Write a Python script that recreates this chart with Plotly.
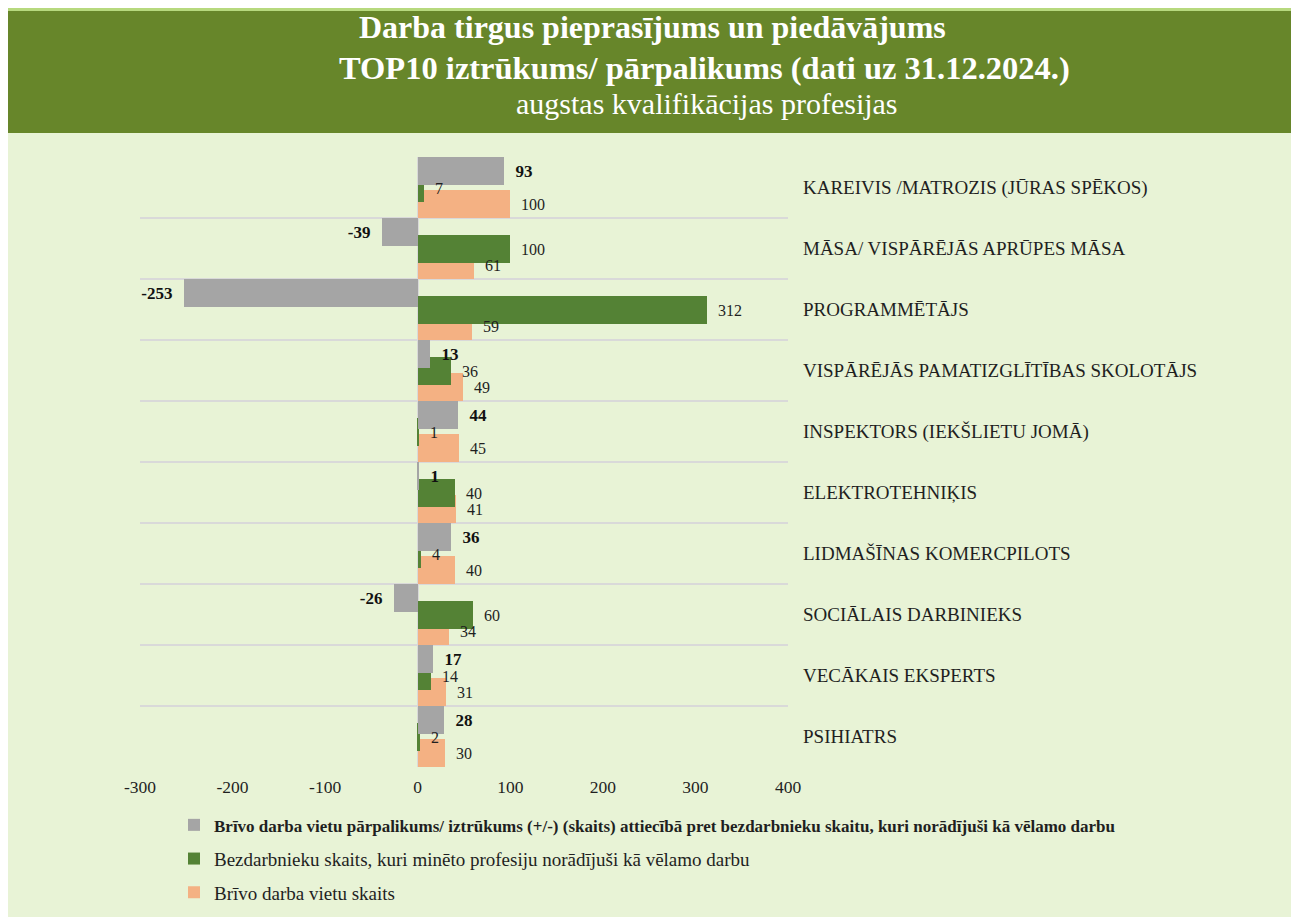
import plotly.graph_objects as go

categories = [
    "KAREIVIS /MATROZIS (JŪRAS SPĒKOS)",
    "MĀSA/ VISPĀRĒJĀS APRŪPES MĀSA",
    "PROGRAMMĒTĀJS",
    "VISPĀRĒJĀS PAMATIZGLĪTĪBAS SKOLOTĀJS",
    "INSPEKTORS (IEKŠLIETU JOMĀ)",
    "ELEKTROTEHNIĶIS",
    "LIDMAŠĪNAS KOMERCPILOTS",
    "SOCIĀLAIS DARBINIEKS",
    "VECĀKAIS EKSPERTS",
    "PSIHIATRS",
]
balance = [93, -39, -253, 13, 44, 1, 36, -26, 17, 28]
unemployed = [7, 100, 312, 36, 1, 40, 4, 60, 14, 2]
vacancies = [100, 61, 59, 49, 45, 41, 40, 34, 31, 30]

x_tick_vals = [-300, -200, -100, 0, 100, 200, 300, 400]
x_tick_text = ["-300", "-200", "-100", "0", "100", "200", "300", "400"]

name_balance = ('<span style="font-size:17px"><b>Brīvo darba vietu pārpalikums/ iztrūkums (+/-) (skaits) '
                'attiecībā pret bezdarbnieku skaitu, kuri norādījuši kā vēlamo darbu</b></span>')
name_unemp = "Bezdarbnieku skaits, kuri minēto profesiju norādījuši kā vēlamo darbu"
name_vac = "Brīvo darba vietu skaits"

title_lines = [
    "<b>Darba tirgus pieprasījums un piedāvājums</b>",
    "<b>TOP10 iztrūkums/ pārpalikums (dati uz 31.12.2024.)</b>",
    "augstas kvalifikācijas profesijas",
]

OFF = 8                       # browser body margin
W, H = 1299 - OFF, 917 - OFF  # figure size
# plot area in reference-pixel coordinates
L, R, T, B = 140, 788, 157, 767
SERIF = "Liberation Serif, Times New Roman, serif"
NB = "\u00a0\u00a0"

def px_x(p):
    return (p - L) / (R - L)

def px_y(p):
    return (B - p) / (B - T)

def lab(v, bold=False):
    s = "<b>%d</b>" % v if bold else "%d" % v
    return (s + NB) if v < 0 else (NB + s)

series = [
    # values, name, colour, offset, bold, legend rank
    (vacancies, name_vac, "#F4B183", 0.04, False, 3),
    (unemployed, name_unemp, "#548235", -0.22, False, 2),
    (balance, name_balance, "#A5A5A5", -0.5, True, 1),
]
bw = 0.46

fig = go.Figure()
# bars (orange at the back, grey in front)
for vals, name, col, off, bold, rank in series:
    fig.add_trace(go.Bar(
        y=categories, x=vals, orientation="h", name=name,
        marker=dict(color=col, line=dict(width=0)),
        width=bw, offset=off, hoverinfo="x+name",
        legendgroup=name, legendrank=rank,
    ))
# data labels on top of all bars
for vals, name, col, off, bold, rank in series:
    fig.add_trace(go.Bar(
        y=categories, x=vals, orientation="h", name=name,
        marker=dict(color="rgba(0,0,0,0)", line=dict(width=0)),
        width=bw, offset=off, showlegend=False, hoverinfo="skip",
        text=[lab(v, bold) for v in vals], textposition="outside", cliponaxis=False,
        constraintext="none",
        textfont=dict(family=SERIF, size=17 if bold else 16,
                      color="#111111" if bold else "#1f1f1f"),
        legendgroup=name,
    ))

shapes = [
    dict(type="rect", xref="paper", yref="paper", layer="below",
         x0=px_x(OFF), x1=px_x(1299), y0=px_y(917), y1=px_y(133),
         fillcolor="#E8F3D6", line=dict(width=0)),
    dict(type="rect", xref="paper", yref="paper", layer="below",
         x0=px_x(OFF), x1=px_x(1299), y0=px_y(11), y1=px_y(OFF),
         fillcolor="#B7D97E", line=dict(width=0)),
    dict(type="rect", xref="paper", yref="paper", layer="below",
         x0=px_x(OFF), x1=px_x(1299), y0=px_y(133), y1=px_y(11),
         fillcolor="#67862A", line=dict(width=0)),
]

annotations = []
title_pos = [(652, 27, 32), (704, 68, 32.5), (707, 104, 30)]
for txt, (cx, cy, fs) in zip(title_lines, title_pos):
    annotations.append(dict(
        text=txt, xref="paper", yref="paper", x=px_x(cx), y=px_y(cy),
        xanchor="center", yanchor="middle", showarrow=False,
        font=dict(family=SERIF, size=fs, color="white"),
    ))

fig.update_layout(
    width=W, height=H,
    margin=dict(l=L - OFF, r=W - (R - OFF), t=T - OFF, b=H - (B - OFF), pad=0,
                autoexpand=False),
    paper_bgcolor="white", plot_bgcolor="rgba(0,0,0,0)",
    barmode="overlay",
    bargap=0,
    showlegend=True,
    legend=dict(
        x=px_x(174), y=px_y(806), xanchor="left", yanchor="top",
        orientation="v", traceorder="grouped", tracegroupgap=6,
        font=dict(family=SERIF, size=19, color="#1f1f1f"),
        bgcolor="rgba(0,0,0,0)", itemclick=False, itemdoubleclick=False,
    ),
    shapes=shapes,
    annotations=annotations,
    font=dict(family=SERIF, size=15, color="#1f1f1f"),
)
fig.update_xaxes(
    range=[-300, 400], tickvals=x_tick_vals, ticktext=x_tick_text,
    showgrid=False, zeroline=True, zerolinecolor="#D9D9D9", zerolinewidth=2,
    showline=False, ticks="outside", ticklen=4, tickcolor="rgba(0,0,0,0)",
    tickfont=dict(family=SERIF, size=17.5, color="#1f1f1f"),
)
fig.update_yaxes(
    type="category", range=[9.505, -0.505], side="right",
    tickson="boundaries", showgrid=True, gridcolor="#D9D9D9", gridwidth=2,
    showline=False, zeroline=False, ticks="", ticklabelstandoff=14,
    tickfont=dict(family=SERIF, size=19, color="#1f1f1f"),
)

fig.write_html("out.html")
